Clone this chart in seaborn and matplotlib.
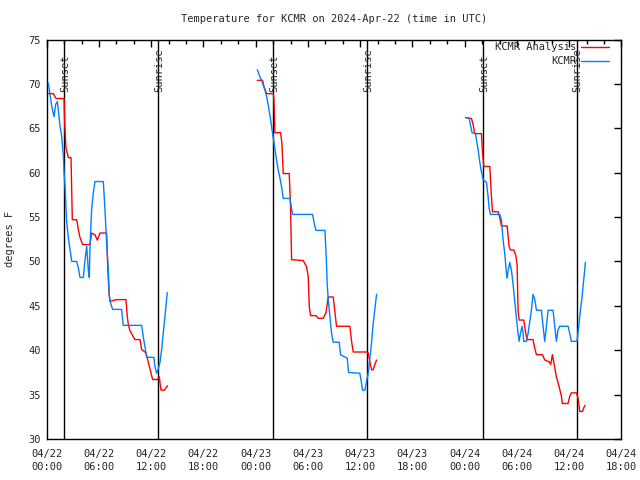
import matplotlib
matplotlib.use('Agg')
import matplotlib.pyplot as plt
from matplotlib.lines import Line2D
import pandas as pd
import seaborn as sns

sns.set_style('white')
plt.rcParams['font.family'] = ['DejaVu Sans Mono', 'DejaVu Sans']
plt.rcParams['font.size'] = 7.5

# hours since 2024-04-22 00:00 UTC, temps in degrees F
obs1_hours = [0.19, 0.38, 0.57, 0.84, 1.03, 1.22, 1.34, 1.53, 1.72, 1.91, 1.99, 2.10, 2.29, 2.48,
              2.67, 2.87, 3.44, 3.63, 3.82, 4.20, 4.40, 4.59, 4.78, 4.89, 4.97, 5.16, 5.35, 5.54,
              6.50, 6.69, 6.88, 7.07, 7.19, 7.34, 7.57, 8.60, 8.79, 10.90, 11.09, 11.28, 11.47,
              12.31, 12.42, 12.62, 12.81, 13.00, 13.20, 13.39, 13.58, 13.84]
obs1_temps = [70.1, 68.8, 67.5, 66.3, 67.7, 68.0, 67.0, 65.2, 64.1, 61.9, 60.0, 58.5, 54.5, 52.7,
              51.4, 50.0, 50.0, 49.3, 48.2, 48.2, 50.2, 51.7, 49.0, 48.2, 51.7, 55.9, 57.7, 59.0,
              59.0, 55.8, 52.1, 49.1, 46.1, 45.3, 44.6, 44.6, 42.8, 42.8, 41.5, 40.4, 39.2,
              39.2, 38.2, 37.4, 37.9, 38.6, 40.1, 42.0, 43.8, 46.5]
ana1_hours = [0.19, 0.76, 1.07, 1.99, 2.06, 2.21, 2.48, 2.79, 2.94, 3.44, 3.63, 3.82, 4.13, 4.97,
              5.16, 5.54, 5.81, 6.12, 6.88, 7.00, 7.15, 7.26, 8.03, 9.10, 9.25, 9.37, 9.56, 10.13,
              10.71, 10.90, 11.40, 11.78, 12.16, 12.70, 12.93, 13.12, 13.51, 13.88]
ana1_temps = [68.9, 68.9, 68.35, 68.35, 65.6, 62.8, 61.7, 61.7, 54.7, 54.7, 53.6, 52.7, 51.9, 51.9,
              53.2, 53.0, 52.4, 53.2, 53.2, 49.5, 46.5, 45.5, 45.7, 45.7, 43.8, 42.9, 42.2, 41.2,
              41.2, 40.1, 39.7, 38.2, 36.7, 36.7, 37.0, 35.5, 35.5, 36.0]

obs2_hours = [24.18, 24.49, 24.79, 25.06, 25.25, 25.44, 25.63, 25.82, 26.02, 26.21, 26.40, 26.59,
              26.78, 26.97, 27.16, 27.93, 28.23, 30.53, 30.68, 30.91, 31.95, 32.06, 32.14, 32.21,
              32.33, 32.52, 32.71, 32.90, 33.59, 33.74, 34.51, 34.66, 35.96, 36.15, 36.27, 36.54,
              36.73, 36.92, 37.30, 37.49, 37.88]
obs2_temps = [71.6, 70.8, 70.1, 69.3, 68.6, 67.6, 66.5, 65.2, 63.9, 62.6, 61.4, 60.3,
              59.4, 58.4, 57.1, 57.1, 55.3, 55.3, 54.5, 53.5, 53.5, 51.3, 49.4, 47.5,
              45.7, 43.8, 41.9, 40.9, 40.9, 39.5, 39.1, 37.5, 37.4, 36.3, 35.5, 35.5,
              36.5, 37.4, 40.8, 43.0, 46.3]
ana2_hours = [24.18, 24.79, 24.94, 25.25, 26.02, 26.09, 26.21, 26.86, 27.01, 27.16, 27.85, 28.00,
              28.12, 29.46, 29.84, 30.03, 30.15, 30.30, 30.91, 31.18, 31.75, 32.06, 32.33, 32.90,
              33.28, 34.81, 35.01, 35.20, 36.73, 36.92, 37.11, 37.30, 37.49, 37.68, 37.88]
ana2_temps = [70.4, 70.4, 69.7, 68.9, 68.9, 68.3, 64.5, 64.5, 63.3, 59.9, 59.9, 56.2,
              50.2, 50.1, 49.4, 48.3, 44.9, 43.9, 43.9, 43.6, 43.6, 44.2, 46.0, 46.0,
              42.7, 42.7, 41.0, 39.8, 39.8, 39.7, 38.7, 37.8, 37.8, 38.4, 38.9]

obs3_hours = [48.13, 48.51, 48.66, 48.85, 49.24, 49.35, 49.54, 49.73, 49.92, 50.12, 50.50, 50.69,
              50.80, 50.96, 52.03, 52.22, 52.41, 52.60, 52.79, 52.87, 52.98, 53.18, 53.37, 53.56,
              53.75, 53.94, 54.13, 54.25, 54.40, 54.59, 54.71, 54.78, 55.09, 55.28, 55.47, 55.66,
              55.85, 56.05, 56.24, 56.81, 57.00, 57.19, 57.38, 57.58, 58.15, 58.34, 58.53, 58.72,
              58.91, 59.87, 60.06, 60.25, 60.90, 61.09, 61.29, 61.48, 61.59, 61.78, 61.86]
obs3_temps = [66.2, 66.1, 65.4, 64.5, 64.4, 63.7, 62.6, 61.2, 60.1, 59.2, 58.9, 57.3,
              56.0, 55.3, 55.3, 54.7, 52.4, 50.9, 48.7, 48.1, 48.9, 49.9, 49.0, 47.4,
              45.5, 43.6, 41.9, 41.0, 41.9, 42.7, 41.9, 41.0, 41.0, 41.9, 43.2, 44.5,
              46.3, 45.7, 44.5, 44.5, 42.7, 41.0, 42.7, 44.5, 44.5, 42.7, 41.0, 42.3,
              42.7, 42.7, 41.9, 41.0, 41.0, 42.7, 44.5, 46.0, 47.2, 49.0, 49.9]
ana3_hours = [48.13, 48.78, 48.97, 49.16, 49.92, 50.04, 50.19, 50.88, 51.07, 51.19, 51.84, 52.03,
              52.22, 52.87, 53.10, 53.25, 53.63, 53.86, 54.02, 54.13, 54.25, 54.78, 55.01, 55.17,
              55.85, 56.05, 56.24, 56.93, 57.19, 57.69, 57.88, 58.07, 58.26, 58.53, 58.84, 59.11,
              59.22, 59.87, 60.06, 60.25, 60.83, 61.02, 61.21, 61.52, 61.67, 61.82]
ana3_temps = [66.2, 66.1, 65.4, 64.4, 64.4, 62.4, 60.7, 60.7, 57.3, 55.6, 55.6, 54.9,
              54.0, 54.0, 51.7, 51.3, 51.3, 50.7, 49.6, 44.5, 43.4, 43.4, 41.9, 41.2,
              41.2, 40.2, 39.5, 39.5, 38.9, 38.7, 38.4, 39.5, 38.5, 37.0, 35.9, 34.8,
              34.0, 34.0, 34.8, 35.2, 35.2, 34.6, 33.1, 33.1, 33.5, 33.8]

sunset_hours = [2.0, 26.0, 50.1]
sunrise_hours = [12.8, 36.77, 60.87]
tick_hours = list(range(0, 67, 6))

rows = []
for night, (oh, ot, ah, at) in enumerate([(obs1_hours, obs1_temps, ana1_hours, ana1_temps),
                                          (obs2_hours, obs2_temps, ana2_hours, ana2_temps),
                                          (obs3_hours, obs3_temps, ana3_hours, ana3_temps)]):
    for h, t in zip(ah, at):
        rows.append({'series': 'KCMR Analysis', 'night': night, 'hour': h, 'temp': t})
    for h, t in zip(oh, ot):
        rows.append({'series': 'KCMR', 'night': night, 'hour': h, 'temp': t})
df = pd.DataFrame(rows)

colors = {'KCMR Analysis': '#ff0000', 'KCMR': '#0080ff'}

fig = plt.figure(figsize=(6.4, 4.8), dpi=100)
ax = fig.add_axes([0.073, 0.0854, 0.898, 0.8323])

for h in sunset_hours + sunrise_hours:
    ax.axvline(h, color='black', lw=1.0, zorder=1)
for h in sunset_hours:
    ax.text(h + 0.1, 69.1, 'Sunset', rotation=90, ha='center', va='bottom')
for h in sunrise_hours:
    ax.text(h + 0.1, 69.1, 'Sunrise', rotation=90, ha='center', va='bottom')

sns.lineplot(data=df, x='hour', y='temp', hue='series', units='night', estimator=None,
             sort=False, palette=colors, legend=False, lw=1.0, ax=ax, zorder=3)

ax.set_xlim(0, 66)
ax.set_ylim(30, 75)
ax.set_xticks(tick_hours)
base = pd.Timestamp('2024-04-22')
ax.set_xticklabels([(base + pd.Timedelta(hours=h)).strftime('%m/%d\n%H:%M') for h in tick_hours],
                   linespacing=1.45)
ax.set_xticks(range(0, 67, 2), minor=True)
ax.set_yticks(range(30, 76, 5))
ax.tick_params(which='both', direction='in', top=True, right=True, color='black')
ax.tick_params(which='major', length=5, width=1)
ax.tick_params(which='minor', length=3, width=1)
ax.tick_params(axis='x', pad=7)
ax.tick_params(axis='y', pad=4)
for s in ax.spines.values():
    s.set_color('black')
    s.set_linewidth(1.0)

ax.set_xlabel('')
ax.set_ylabel('degrees F', labelpad=10)
fig.text(0.522, 0.96, 'Temperature for KCMR on 2024-Apr-22 (time in UTC)', ha='center', va='center')

# gnuplot-style key: text right-aligned, sample line after it
for i, name in enumerate(['KCMR Analysis', 'KCMR']):
    handle = Line2D([], [], color=colors[name], lw=1.0)
    leg = ax.legend([handle], [name], loc='upper right', bbox_to_anchor=(0.978, 0.993 - i * 0.035),
                    frameon=False, markerfirst=False, handlelength=2.7, handletextpad=0.4,
                    borderpad=0, borderaxespad=0)
    ax.add_artist(leg)
ax.legend_ = None

fig.savefig('out.png', dpi=100)
